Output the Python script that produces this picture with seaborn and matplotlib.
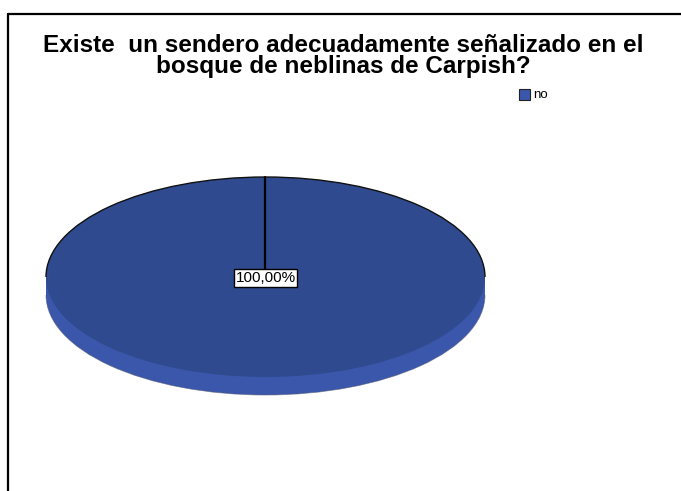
import matplotlib
matplotlib.use("Agg")
import matplotlib.pyplot as plt
import seaborn as sns
from matplotlib.patches import Rectangle, Arc
from matplotlib.lines import Line2D

categories = ["no"]
values = [100.0]
labels = ["100,00%"]

sns.set_theme(style="white")
plt.rcParams['font.family'] = ['Liberation Sans', 'DejaVu Sans']
plt.rcParams['text.color'] = 'black'

top_color = "#2f4a8e"
side_color = "#3a57ab"

W, H = 681, 491
fig = plt.figure(figsize=(W / 100, H / 100), dpi=100)
ax = fig.add_axes([0, 0, 1, 1])

cx, cy, rx, ry = 265.5, 277.0, 219.5, 100.0
depth = 0.18

# side (3D rim)
ax.pie(values, radius=1, center=(0, -depth), startangle=90, counterclock=False,
       colors=[side_color], wedgeprops=dict(edgecolor="none"))
ax.add_patch(Rectangle((-1, -depth), 2, depth, facecolor=side_color, edgecolor="none", zorder=1))
# top face
wedges, _ = ax.pie(values, radius=1, center=(0, 0), startangle=90, counterclock=False,
                   colors=[top_color], wedgeprops=dict(edgecolor="none"))
for w in wedges:
    w.set_zorder(2)
# line from center to top
ax.plot([0, 0], [0, 1], color="black", lw=1.6, zorder=3)
ax.add_patch(Arc((0, 0), 2, 2, theta1=0, theta2=180, edgecolor="#111111", lw=1.0, zorder=3))
ax.add_patch(Arc((0, -depth), 2, 2, theta1=180, theta2=360, edgecolor="#555a70", lw=0.6, zorder=3, alpha=0.6))

ax.set_aspect("auto")
ax.set_xlim(-cx / rx, (W - cx) / rx)
ax.set_ylim((cy - H) / ry, cy / ry)
ax.axis("off")

ax.text(0, -0.01, labels[0], ha="center", va="center", fontsize=11, zorder=5,
        bbox=dict(boxstyle="square,pad=0.12", facecolor="white", edgecolor="black", lw=1.0))

fig.text(343 / W, 1 - 56 / H, "Existe  un sendero adecuadamente señalizado en el\nbosque de neblinas de Carpish?",
         ha="center", va="center", fontsize=17.5, fontweight="bold", linespacing=0.93)

# legend
fig.patches.append(Rectangle((519 / W, 1 - 100 / H), 11 / W, 11 / H, transform=fig.transFigure,
                             facecolor=side_color, edgecolor="#222222", lw=0.8))
fig.text(533 / W, 1 - 95 / H, categories[0], ha="left", va="center", fontsize=9.5)

# frame lines
fig.add_artist(Line2D([7.5 / W, 7.5 / W], [0, 1 - 14 / H], color="black", lw=1.6, transform=fig.transFigure))
fig.add_artist(Line2D([7.5 / W, 1], [1 - 14 / H, 1 - 14 / H], color="black", lw=1.6, transform=fig.transFigure))

fig.savefig("out.png", dpi=100)
